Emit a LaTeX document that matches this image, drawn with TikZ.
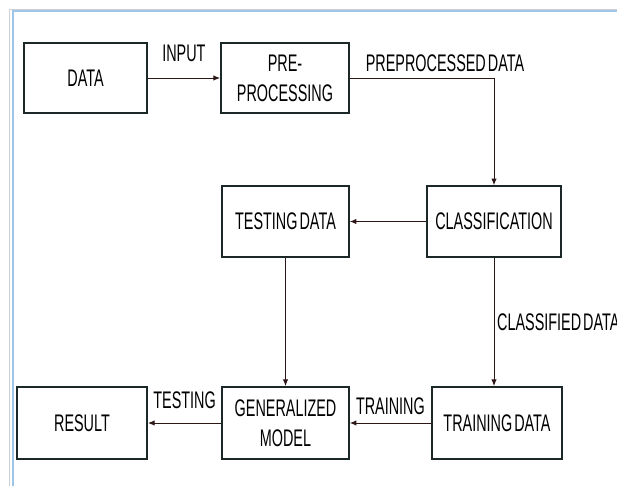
\documentclass[tikz,border=0pt]{standalone}
\usepackage{fontspec}
\setmainfont{Liberation Sans}[FakeStretch=0.6, WordSpace=0.5]
\usepackage{xcolor}
\usetikzlibrary{arrows.meta}
\definecolor{framegray}{RGB}{208, 208, 208}
\definecolor{frameblue}{RGB}{158, 196, 232}
\definecolor{boxline}{RGB}{28, 40, 40}
\definecolor{flowline}{RGB}{45, 22, 22}

\begin{document}
\begin{tikzpicture}[
  x=0.75pt, y=-0.75pt,
  every node/.style={font=\fontsize{18}{22.5}\selectfont},
  box/.style={draw=boxline, line width=1.3pt, minimum height=53pt, align=center, inner sep=0pt},
  arrow/.style={-{Latex[length=5pt, width=4pt]}, line width=0.75pt, color=flowline},
  label/.style={inner sep=1pt, text=black}
]
  \useasboundingbox (0,0) rectangle (617,486);

  % window frame
  \draw[framegray, line width=0.75pt] (9.5,486) |- (617,9.5);
  \draw[frameblue, line width=1.5pt] (12.8,486) |- (617,11);

  % Blocks
  \node[box, minimum width=92pt] (data) at (85.5,78) {DATA};
  \node[box, minimum width=96pt] (prep) at (285,78) {PRE-\\PROCESSING};
  \node[box, minimum width=95pt] (test) at (285.5,221.5) {TESTING DATA};
  \node[box, minimum width=100pt] (class) at (494,221.5) {CLASSIFICATION};
  \node[box, minimum width=97.5pt, minimum height=54pt] (result) at (82,423) {RESULT};
  \node[box, minimum width=95pt, minimum height=54pt] (model) at (285.5,423) {GENERALIZED\\MODEL};
  \node[box, minimum width=97.5pt, minimum height=54pt] (train) at (497,423) {TRAINING DATA};

  % Flow
  \draw[arrow] (data) -- (prep) node[label, midway, above=11pt] {INPUT};
  \draw[arrow] (prep.east) -| (class.north) node[label, pos=0.33, above=3pt] {PREPROCESSED DATA};
  \draw[arrow] (class) -- (test);
  \draw[arrow] (class.south) -- (class.south |- train.north) node[label, midway, right=1pt] {CLASSIFIED DATA};
  \draw[arrow] (test) -- (model);
  \draw[arrow] (train) -- (model) node[label, midway, above=5pt] {TRAINING};
  \draw[arrow] (model) -- (result) node[label, midway, above=9pt] {TESTING};

\end{tikzpicture}
\end{document}
